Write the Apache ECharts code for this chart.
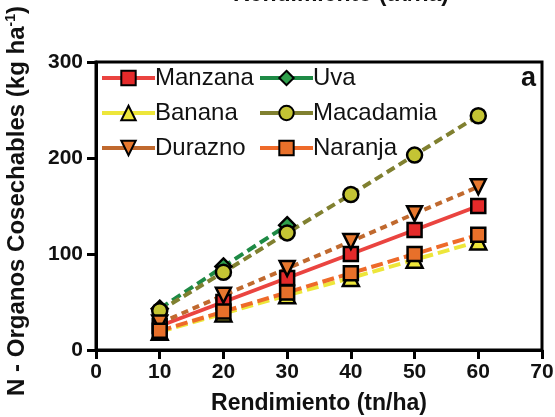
<!DOCTYPE html>
<html><head><meta charset="utf-8">
<script src="https://cdn.jsdelivr.net/npm/echarts@6/dist/echarts.min.js"></script>
<style>html,body{margin:0;padding:0;background:#fff}#c{width:555px;height:417px}</style>
</head><body><div id="c"></div>
<script>
const xRend = [10, 20, 30, 40, 50, 60];
const xUva = [10, 20, 30];
const manzana = [25, 50, 75, 100, 125, 150];
const uva = [43, 87, 130];
const banana = [19, 38, 57, 75, 94, 113];
const macadamia = [41, 81, 122, 162, 203, 244];
const durazno = [28, 57, 85, 113, 142, 170];
const naranja = [20, 40, 60, 80, 100, 120];
const xTicks = [0, 10, 20, 30, 40, 50, 60, 70];
const yTicks = [0, 100, 200, 300];

const FONT = '"Liberation Sans", Arial, sans-serif';
function pairs(xs, ys){ return xs.map((x,i)=>[x, ys[i]]); }
const specs = [
  {name:'Manzana', xs:xRend, ys:manzana, line:'#EA4440', fill:'#E42A2A', symbol:'rect', dash:'solid', size:14},
  {name:'Uva', xs:xUva, ys:uva, line:'#1E8A45', fill:'#2FA04C', symbol:'diamond', dash:[10,5], size:16},
  {name:'Banana', xs:xRend, ys:banana, line:'#EDE63A', fill:'#EDE63A', symbol:'triangle', dash:[12,5], size:16},
  {name:'Macadamia', xs:xRend, ys:macadamia, line:'#808030', fill:'#C4C434', symbol:'circle', dash:[9,5], size:15},
  {name:'Durazno', xs:xRend, ys:durazno, line:'#C0692E', fill:'#E8782E', symbol:'path://M0,0 L10,0 L5,9 Z', dash:[7,5], size:15},
  {name:'Naranja', xs:xRend, ys:naranja, line:'#EE6A2A', fill:'#E8702A', symbol:'rect', dash:[12,5], size:14}
];
function mk(s, withData){
  return {
    name: withData ? s.name + ' (datos)' : s.name, type:'line',
    data: withData ? pairs(s.xs, s.ys) : [], symbol:s.symbol, symbolSize:s.size,
    lineStyle:{color:s.line, width:4, type: withData ? s.dash : 'solid'},
    itemStyle:{color:s.fill, borderColor:'#000', borderWidth:2.5},
    emphasis:{disabled:true}, z:2, silent:true
  };
}
// legend-key series (solid keys, no data), then the data series
const series = specs.map(s => mk(s, false)).concat(specs.map(s => mk(s, true)));
const chart = echarts.init(document.getElementById('c'), null, {renderer:'canvas'});
const legendCommon = {
  orient:'vertical', itemWidth:53, itemHeight:18, itemGap:11,
  textStyle:{fontFamily:FONT, fontSize:24, lineHeight:24, color:'#111', padding:[0,0,0,-5]},
  lineStyle:{type:'solid', width:4}, selectedMode:false, padding:0
};
chart.setOption({
  animation:false,
  grid:{left:96, right:13, top:62, bottom:67, show:true, borderColor:'#000', borderWidth:3, outerBoundsMode:'none'},
  legend:[
    Object.assign({}, legendCommon, {left:100, top:66, data:['Manzana','Banana','Durazno']}),
    Object.assign({}, legendCommon, {left:258, top:66, data:['Uva','Macadamia','Naranja']})
  ],
  xAxis:{type:'value', min:xTicks[0], max:xTicks[xTicks.length-1], interval:10,
    name:'Rendimiento (tn/ha)', nameLocation:'middle', nameGap:42,
    nameTextStyle:{fontFamily:FONT, fontWeight:'bold', fontSize:23, color:'#111'},
    axisLine:{lineStyle:{color:'#000', width:3}},
    axisTick:{length:9, lineStyle:{color:'#000', width:3}},
    axisLabel:{fontFamily:FONT, fontWeight:'bold', fontSize:21, color:'#111', margin:12},
    splitLine:{show:false}},
  yAxis:{type:'value', min:yTicks[0], max:yTicks[yTicks.length-1], interval:100,
    name:'{a|N - Organos Cosechables (kg ha}{s|-1}{a|)}', nameLocation:'middle', nameGap:66,
    nameTextStyle:{fontFamily:FONT, fontWeight:'bold', fontSize:24, color:'#111', padding:[0,0,0,10],
      rich:{a:{fontFamily:FONT, fontWeight:'bold', fontSize:24, color:'#111'},
            s:{fontFamily:FONT, fontWeight:'bold', fontSize:14, color:'#111', verticalAlign:'top', padding:[0,0,12,0]}}},
    axisLine:{lineStyle:{color:'#000', width:3}},
    axisTick:{length:9, lineStyle:{color:'#000', width:3}},
    axisLabel:{fontFamily:FONT, fontWeight:'bold', fontSize:21, color:'#111', margin:13},
    splitLine:{show:false}},
  graphic:[
    {type:'text', left:521, top:65, style:{text:'a', fontFamily:FONT, fontWeight:'bold', fontSize:27, fill:'#111'}},
    {type:'text', left:233, top:-17, style:{text:'Rendimiento (tn/ha)', fontFamily:FONT, fontWeight:'bold', fontSize:23, fill:'#111'}}
  ],
  series
});
</script></body></html>
